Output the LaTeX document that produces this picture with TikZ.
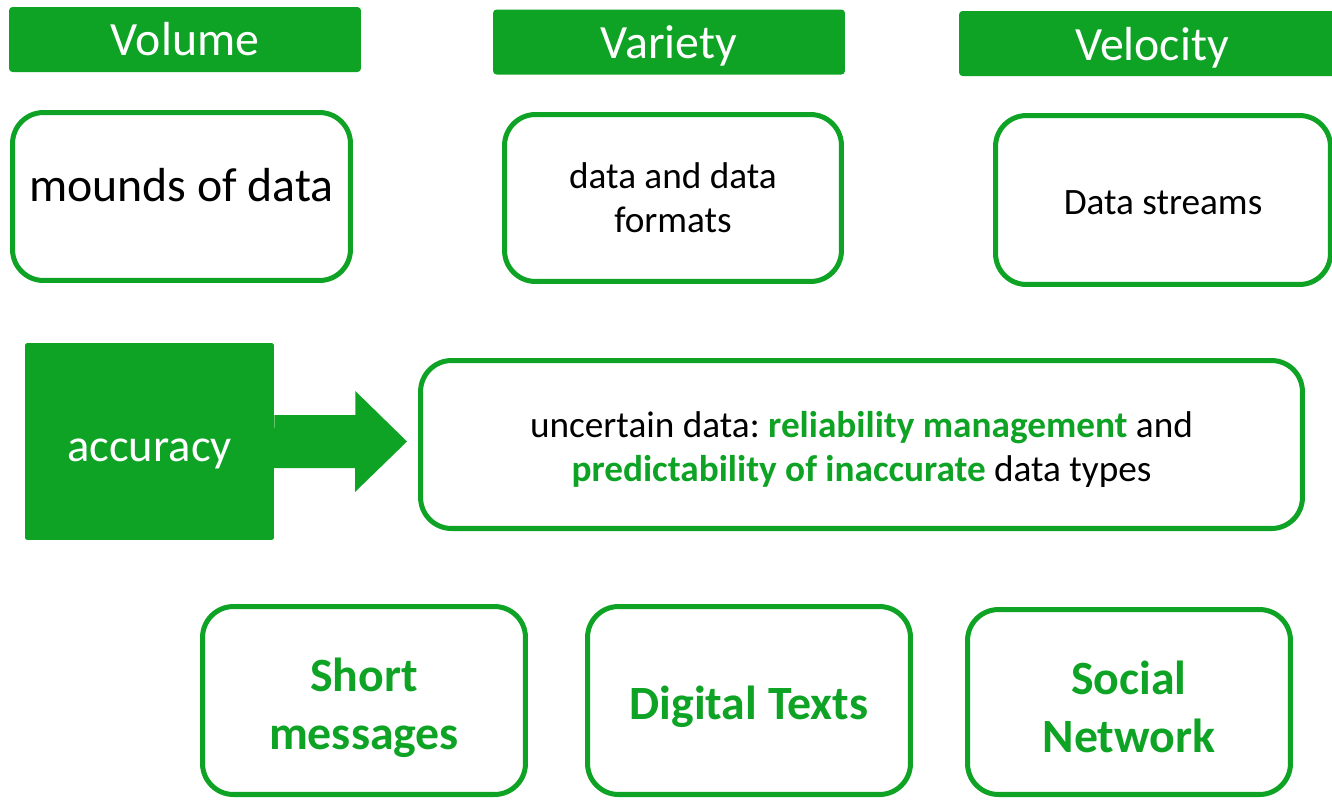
\documentclass[tikz,border=0pt]{standalone}
\usepackage{fontspec}
\setmainfont{Carlito}
\usepackage{xcolor}
\definecolor{vgreen}{RGB}{14,163,36}
\tikzset{
  header/.style={fill=vgreen,rounded corners=2pt,text=white,inner sep=0pt,minimum width=7.04cm,minimum height=1.3cm,font=\fontsize{27.2}{32}\selectfont},
  vbox/.style={draw=vgreen,line width=2.85pt,rounded corners=0.62cm,align=center,inner sep=0pt},
  smalltext/.style={font=\fontsize{21.2}{25}\selectfont},
  bigtext/.style={font=\fontsize{27.2}{32}\selectfont},
  boldgreen/.style={text=vgreen,font=\fontsize{27.2}{33}\selectfont\bfseries}
}
\newcommand{\hl}[1]{\textcolor{vgreen}{\textbf{#1}}}
% strut that pushes a centred text down by half of #1
\newcommand{\drop}[1]{\rule{0pt}{\dimexpr\fontcharht\font`h+#1\relax}}
\frenchspacing

\begin{document}
\begin{tikzpicture}[x=0.02cm,y=-0.02cm]
  \useasboundingbox (0,0) rectangle (1332,799);
  \clip (0,0) rectangle (1332,799);
  % the three V headers
  \node[header] (vol) at (185,39.5) {Volume};
  \node[header] (var) at (669,42) {\drop{4.6pt}Variety};
  \node[header,minimum width=7.72cm] (vel) at (1152,43.5) {\drop{4.6pt}Velocity};
  % boxes under the headers
  \node[vbox,bigtext,minimum width=6.76cm,minimum height=3.36cm,text depth=0.48cm] (mounds) at (181.5,196.5) {mounds of data};
  \node[vbox,smalltext,minimum width=6.74cm,minimum height=3.34cm] (formats) at (673,198) {data and data\\formats};
  \node[vbox,smalltext,minimum width=6.7cm,minimum height=3.38cm] (streams) at (1163,200) {\drop{2.3pt}Data streams};
  % accuracy block and its arrow
  \node[fill=vgreen,rounded corners=1pt,text=white,minimum width=4.98cm,minimum height=3.94cm,inner sep=0pt,font=\fontsize{26.5}{31}\selectfont] (acc) at (149.5,441.5) {\drop{9pt}accuracy};
  \node[vbox,smalltext,minimum width=17.64cm,minimum height=3.36cm] (unc) at (861.5,444.5)
    {\drop{5.7pt}uncertain data: \hl{reliability management} and\\\hl{predictability of inaccurate} data types};
  \coordinate (tip) at (407,441.5);
  \fill[vgreen] (acc.east) ++(0,-26.5) -- ++(81,0) -- ++(0,-24) -- (tip) -- ++(-52,50.5) -- ++(0,-24) -- ++(-81,0) -- cycle;
  % sources
  \node[vbox,boldgreen,minimum width=6.46cm,minimum height=3.76cm] (short) at (364,700.5) {\drop{8pt}Short\\messages};
  \node[vbox,boldgreen,minimum width=6.46cm,minimum height=3.76cm] (digital) at (749,700.5) {\drop{6.8pt}Digital Texts};
  \node[vbox,boldgreen,minimum width=6.46cm,minimum height=3.7cm] (social) at (1129,702) {\drop{5.7pt}Social\\Network};
\end{tikzpicture}
\end{document}
